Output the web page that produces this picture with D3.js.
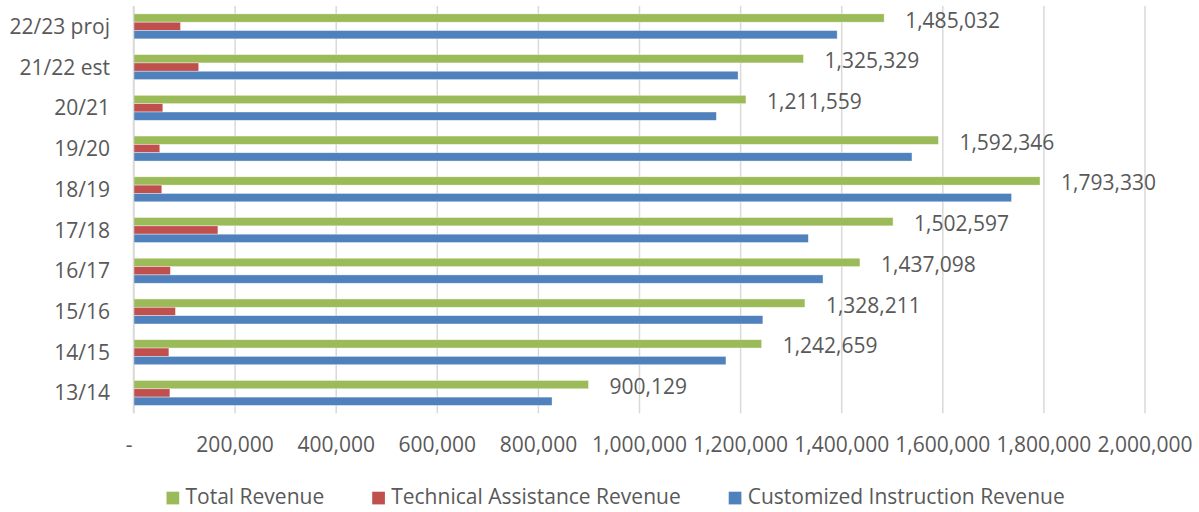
<!DOCTYPE html>
<html>
<head>
<meta charset="utf-8">
<script src="https://cdn.jsdelivr.net/npm/d3@7"></script>
<style>
  html, body { margin: 0; padding: 0; background: #fff; }
  svg { display: block; }
  svg text { font-family: "Open Sans", "DejaVu Sans", sans-serif; fill: #595959; }
</style>
</head>
<body>
<svg id="chart" width="1199" height="512"></svg>
<script>
// Fiscal years, bottom to top
const categories = ["13/14", "14/15", "15/16", "16/17", "17/18", "18/19", "19/20", "20/21", "21/22 est", "22/23 proj"];

const totalRevenue = [900129, 1242659, 1328211, 1437098, 1502597, 1793330, 1592346, 1211559, 1325329, 1485032];
const technicalAssistanceRevenue = [72000, 70000, 83000, 73000, 167000, 56000, 52000, 58000, 129000, 93000];
const customizedInstructionRevenue = [828000, 1172000, 1245000, 1364000, 1335000, 1737000, 1540000, 1153000, 1196000, 1392000];

const seriesNames = ["Total Revenue", "Technical Assistance Revenue", "Customized Instruction Revenue"];
const seriesColors = ["#9BBB59", "#C0504D", "#4F81BD"];
const tickValues = [0, 200000, 400000, 600000, 800000, 1000000, 1200000, 1400000, 1600000, 1800000, 2000000];

const seriesValues = [totalRevenue, technicalAssistanceRevenue, customizedInstructionRevenue];

const svg = d3.select("#chart");

const plot = { left: 133.5, right: 1144.5, top: 6, bottom: 413.3 };

const x = d3.scaleLinear().domain([0, 2000000]).range([plot.left, plot.right]);

// Top of the chart shows the latest year
const y = d3.scaleBand()
  .domain(categories.slice().reverse())
  .range([plot.top, plot.bottom])
  .paddingInner(0.386)
  .paddingOuter(0.193);

const ySeries = d3.scaleBand()
  .domain(seriesNames)
  .range([0, y.bandwidth()]);

// Vertical gridlines
const grid = svg.append("g")
  .attr("transform", `translate(0,${plot.bottom})`)
  .call(d3.axisBottom(x).tickValues(tickValues).tickSize(-(plot.bottom - plot.top)).tickFormat(""));
grid.select(".domain").remove();
grid.selectAll(".tick line").attr("stroke", "#d9d9d9").attr("stroke-width", 1.5);

// Bars
const rows = categories.map((c, i) => ({
  category: c,
  values: seriesNames.map((s, k) => ({ series: s, value: seriesValues[k][i], color: seriesColors[k] }))
}));

const groups = svg.append("g").selectAll("g")
  .data(rows)
  .join("g")
  .attr("transform", d => `translate(0,${y(d.category)})`);

groups.selectAll("rect")
  .data(d => d.values)
  .join("rect")
  .attr("x", x(0))
  .attr("y", d => ySeries(d.series))
  .attr("width", d => x(d.value) - x(0))
  .attr("height", ySeries.bandwidth())
  .attr("fill", d => d.color)
  .attr("stroke", "#ffffff")
  .attr("stroke-opacity", 0.55)
  .attr("stroke-width", 0.7);

// Total revenue labels
const fmt = d3.format(",");
groups.append("text")
  .attr("x", d => x(d.values[0].value) + 21)
  .attr("y", ySeries(seriesNames[0]) + ySeries.bandwidth() / 2 + 9.5)
  .attr("font-size", 21)
  .text(d => fmt(d.values[0].value));

// Category labels
const yAxis = svg.append("g")
  .call(d3.axisLeft(y).tickSize(0).tickPadding(0))
  .attr("font-family", null)
  .attr("font-size", 21);
yAxis.select(".domain").remove();
yAxis.selectAll(".tick text")
  .attr("x", 110)
  .attr("dy", null)
  .attr("y", 7.5)
  .attr("text-anchor", "end")
  .attr("fill", "#595959");

// Category axis line at zero
svg.append("line")
  .attr("x1", x(0)).attr("x2", x(0))
  .attr("y1", plot.top).attr("y2", plot.bottom)
  .attr("stroke", "#d9d9d9")
  .attr("stroke-width", 1.5);

// Value axis labels
const xAxis = svg.append("g")
  .attr("transform", `translate(0,${plot.bottom})`)
  .call(d3.axisBottom(x).tickValues(tickValues).tickSize(0)
    .tickFormat(v => v === 0 ? "-" : fmt(v)))
  .attr("font-family", null)
  .attr("font-size", 21);
xAxis.select(".domain").remove();
xAxis.selectAll(".tick text")
  .attr("y", 38.7)
  .attr("dy", null)
  .attr("fill", "#595959")
  .attr("dx", v => v === 0 ? -5 : 0);

// Legend
const legend = svg.append("g").attr("transform", "translate(166.5,0)");
let cursor = 0;
seriesNames.forEach((name, k) => {
  const item = legend.append("g").attr("transform", `translate(${cursor},0)`);
  item.append("rect")
    .attr("x", 0).attr("y", 491.7)
    .attr("width", 12.7).attr("height", 12.7)
    .attr("fill", seriesColors[k]);
  const t = item.append("text")
    .attr("x", 19)
    .attr("y", 504.3)
    .attr("font-size", 21)
    .text(name);
  cursor += 19 + t.node().getComputedTextLength() + 48;
});
</script>
</body>
</html>
